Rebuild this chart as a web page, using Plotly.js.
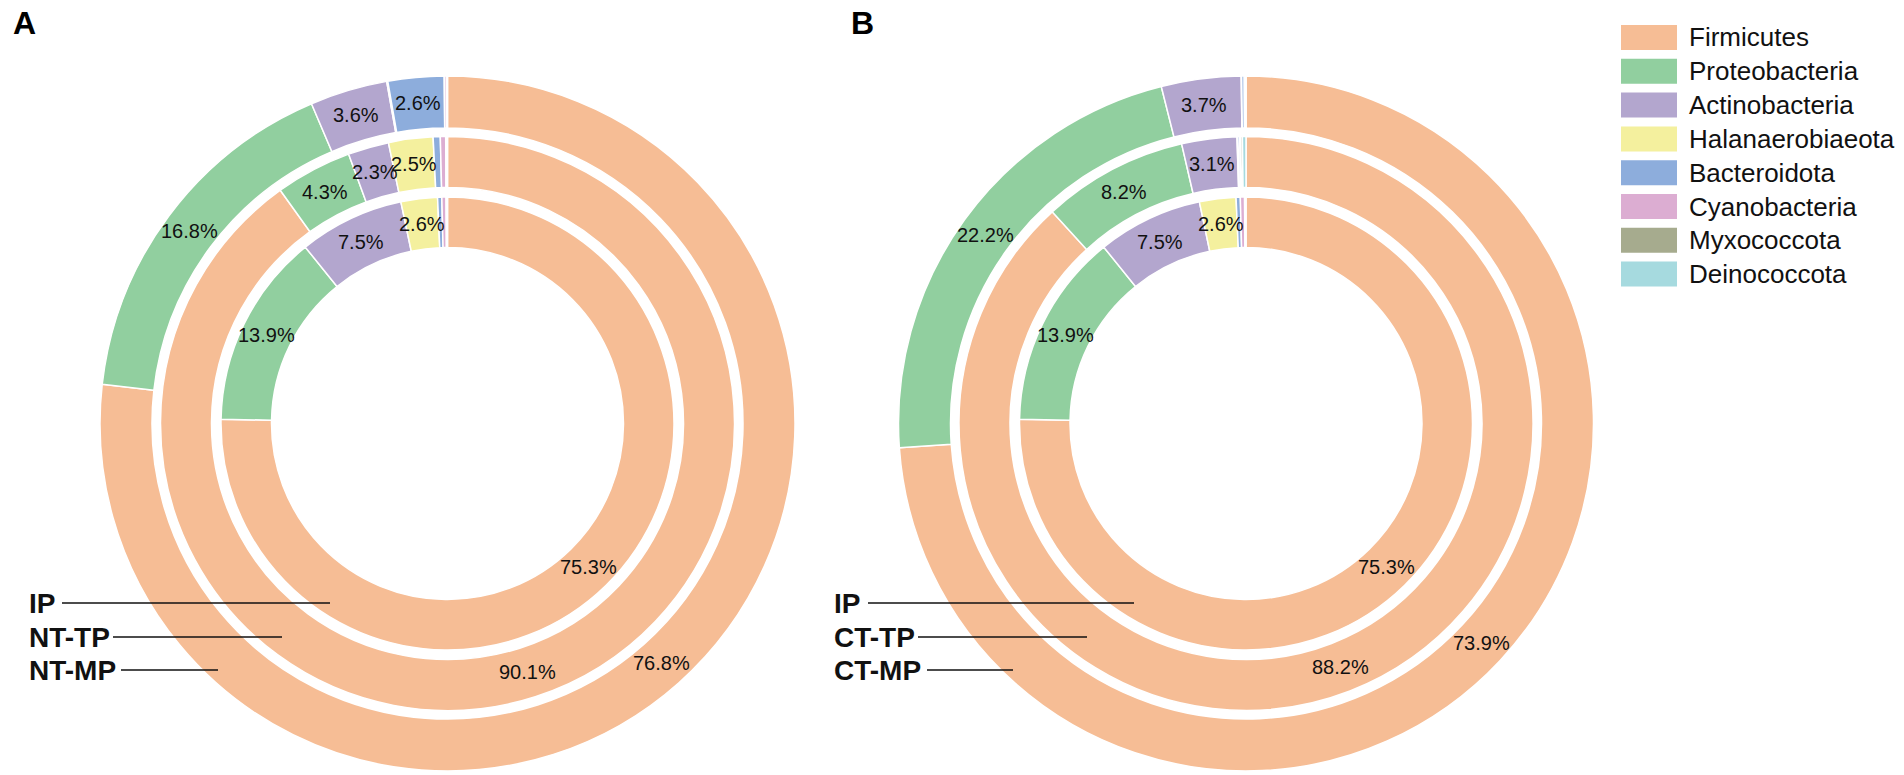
<!DOCTYPE html>
<html>
<head>
<meta charset="utf-8">
<script src="https://cdn.plot.ly/plotly-3.0.1.min.js"></script>
<style>html,body{margin:0;padding:0;background:#fff;}#chart{width:1904px;height:775px;}</style>
</head>
<body>
<div id="chart"></div>
<script>
// ---- data ----
const categories = ['Firmicutes','Proteobacteria','Actinobacteria','Halanaerobiaeota','Bacteroidota','Cyanobacteria','Myxococcota','Deinococcota'];
const colors = ['#F6BD95','#91CF9F','#B3A6CE','#F4F09E','#8DADDC','#DCADD2','#A6AB8E','#A6DADF'];
const IP    = [75.3, 13.9, 7.5, 2.6, 0.3, 0.3, 0.05, 0.05];
const NT_TP = [90.1, 4.3, 2.3, 2.5, 0.4, 0.3, 0.05, 0.05];
const NT_MP = [76.8, 16.8, 3.6, 0.05, 2.6, 0.1, 0.03, 0.02];
const CT_TP = [88.2, 8.2, 3.1, 0.05, 0.1, 0.05, 0.1, 0.2];
const CT_MP = [73.9, 22.2, 3.7, 0.02, 0.12, 0.03, 0.03, 0.02];
const ringNamesA = ['IP','NT-TP','NT-MP'];
const ringNamesB = ['IP','CT-TP','CT-MP'];

// ---- layout geometry (px) ----
const W = 1904, H = 775;
const FONT = 'Arial, "Liberation Sans", Helvetica, sans-serif';
const rings = [ {r0:176, r1:226.5}, {r0:236, r1:287}, {r0:295.5, r1:347.5} ];
const panels = [
  {cx:447.5, cy:423.5, data:[IP, NT_TP, NT_MP], names:ringNamesA, letter:'A', letterX:11,
   lblX:27, lineStart:[62,113,121], lineEnd:[330,282,218]},
  {cx:1246, cy:423.5, data:[IP, CT_TP, CT_MP], names:ringNamesB, letter:'B', letterX:849,
   lblX:832, lineStart:[868,918,927], lineEnd:[1134,1087,1013]}
];
const px = x => x / W;
const py = y => 1 - y / H;

const traces = [];
const shapes = [];
const annotations = [];

panels.forEach(p => {
  p.data.forEach((vals, i) => {
    const R = rings[i].r1;
    traces.push({
      type: 'pie',
      labels: categories,
      values: vals,
      sort: false,
      direction: 'clockwise',
      rotation: 0,
      hole: rings[i].r0 / R,
      domain: {x: [px(p.cx - R), px(p.cx + R)], y: [py(p.cy + R), py(p.cy - R)]},
      marker: {colors: colors, line: {color: '#ffffff', width: 1.5}},
      textinfo: 'none',
      hoverinfo: 'label+percent',
      showlegend: false
    });
    // percentage labels at slice mid-angle, ring mid-radius
    const total = vals.reduce((a, b) => a + b, 0);
    const rm = (rings[i].r0 + rings[i].r1) / 2;
    let cum = 0;
    vals.forEach(v => {
      const th = 2 * Math.PI * (cum + v / 2) / total;
      cum += v;
      if (v < 1) return;
      annotations.push({xref:'paper', yref:'paper',
        x: px(p.cx + rm * Math.sin(th)), y: py(p.cy - rm * Math.cos(th)),
        xanchor:'center', yanchor:'middle', showarrow:false,
        text: v.toFixed(1) + '%', font:{family:FONT, size:20, color:'#111'}});
    });
  });
  // panel letter
  annotations.push({xref:'paper', yref:'paper', x: px(p.letterX), y: py(23), xanchor:'left', yanchor:'middle',
    text: '<b>' + p.letter + '</b>', showarrow:false, font:{family:FONT, size:32, color:'#000'}});
  // ring labels and leader lines
  const ys = [603, 637, 670];
  p.names.forEach((nm, i) => {
    annotations.push({xref:'paper', yref:'paper', x: px(p.lblX), y: py(ys[i]), xanchor:'left', yanchor:'middle',
      text: '<b>' + nm + '</b>', showarrow:false, font:{family:FONT, size:28, color:'#111'}});
    shapes.push({type:'line', xref:'paper', yref:'paper', x0: px(p.lineStart[i]), x1: px(p.lineEnd[i]),
      y0: py(ys[i]), y1: py(ys[i]), line:{color:'#111', width:1.4}});
  });
});

// custom legend
categories.forEach((c, i) => {
  const top = 25 + i * 33.8;
  shapes.push({type:'rect', xref:'paper', yref:'paper', x0: px(1621), x1: px(1677), y0: py(top + 25), y1: py(top),
    fillcolor: colors[i], line:{width:0}});
  annotations.push({xref:'paper', yref:'paper', x: px(1687), y: py(top + 12.5), xanchor:'left', yanchor:'middle',
    text: c, showarrow:false, font:{family:FONT, size:26, color:'#111'}});
});

const layout = {
  width: W, height: H,
  margin: {l:0, r:0, t:0, b:0},
  paper_bgcolor: '#ffffff',
  showlegend: false,
  shapes: shapes,
  annotations: annotations
};

Plotly.newPlot('chart', traces, layout, {displayModeBar: false, staticPlot: true});
</script>
</body>
</html>
